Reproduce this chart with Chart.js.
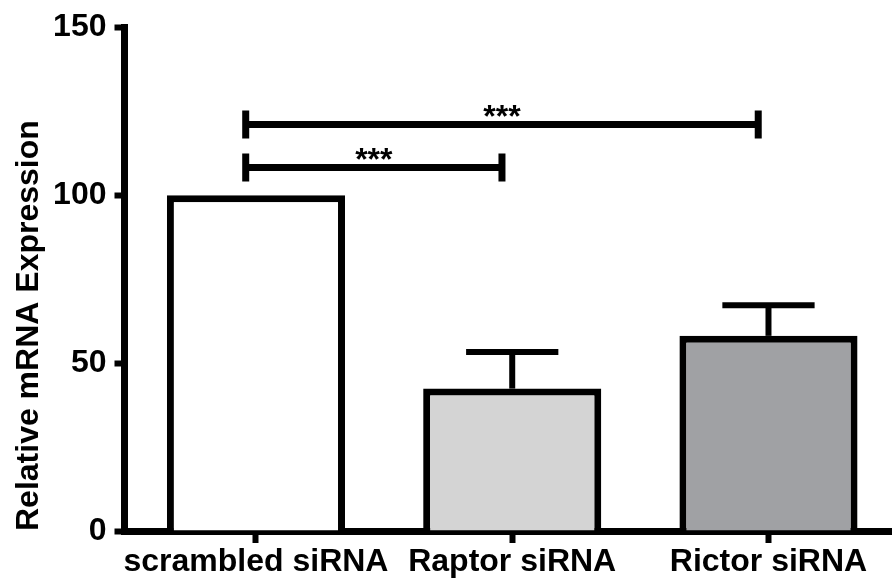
<!DOCTYPE html>
<html>
<head>
<meta charset="utf-8">
<script src="https://cdn.jsdelivr.net/npm/chart.js@4.4.0/dist/chart.umd.min.js"></script>
<style>
  html, body { margin: 0; padding: 0; background: #fff; }
  #chartContainer { width: 892px; height: 580px; }
</style>
</head>
<body>
<div id="chartContainer"><canvas id="myChart"></canvas></div>
<script>
// données
const categories = ["scrambled siRNA", "Raptor siRNA", "Rictor siRNA"];
const means = [100, 42.4, 58.1];
const errTops = [null, 53.3, 67.2]; // haut de la barre d'erreur
const barColors = ["#ffffff", "#d4d4d4", "#a0a1a4"];
const yTicks = [0, 50, 100, 150];

// comparaisons (indices des catégories) et niveau des crochets
const bracketFrom = [0, 0];
const bracketTo = [1, 2];
const bracketY = [108.2, 121];
const bracketLabels = ["***", "***"];

const FONT = "'Liberation Sans', Arial, sans-serif";
const CAP_HALF = 0.18;      // demi-largeur du chapeau, en unités de x
const BRACKET_SHIFT = -0.04; // les crochets sont un peu décalés à gauche
const BRACKET_TIP = 14;     // px

const annotations = {
  id: "annotations",
  afterDatasetsDraw(chart) {
    const { ctx, scales: { x, y } } = chart;
    ctx.save();
    ctx.strokeStyle = "#000";
    ctx.fillStyle = "#000";
    ctx.lineCap = "butt";

    // barres d'erreur
    errTops.forEach((top, i) => {
      if (top == null) return;
      const cx = x.getPixelForValue(i + 1);
      const y0 = y.getPixelForValue(means[i]);
      const y1 = y.getPixelForValue(top);
      const hw = x.getPixelForValue(i + 1 + CAP_HALF) - cx;
      ctx.lineWidth = 6;
      ctx.beginPath();
      ctx.moveTo(cx, y0);
      ctx.lineTo(cx, y1);
      ctx.stroke();
      ctx.beginPath();
      ctx.moveTo(cx - hw, y1);
      ctx.lineTo(cx + hw, y1);
      ctx.stroke();
    });

    // crochets de significativité
    bracketY.forEach((v, k) => {
      const xa = x.getPixelForValue(bracketFrom[k] + 1 + BRACKET_SHIFT);
      const xb = x.getPixelForValue(bracketTo[k] + 1 + BRACKET_SHIFT);
      const yb = y.getPixelForValue(v);
      ctx.lineWidth = 7;
      ctx.beginPath();
      ctx.moveTo(xa, yb);
      ctx.lineTo(xb, yb);
      ctx.moveTo(xa, yb - BRACKET_TIP);
      ctx.lineTo(xa, yb + BRACKET_TIP);
      ctx.moveTo(xb, yb - BRACKET_TIP);
      ctx.lineTo(xb, yb + BRACKET_TIP);
      ctx.stroke();
      ctx.font = "bold 32px " + FONT;
      ctx.textAlign = "center";
      ctx.textBaseline = "alphabetic";
      ctx.fillText(bracketLabels[k], (xa + xb) / 2, yb + 2);
    });
    ctx.restore();
  }
};

const ctx = document.getElementById("myChart").getContext("2d");
const chart = new Chart(ctx, {
  type: "bar",
  data: {
    datasets: [
      {
        data: means.map((v, i) => ({ x: i + 1, y: v })),
        backgroundColor: barColors,
        borderColor: "#000",
        borderWidth: 7,
        borderSkipped: "start",
        barPercentage: 0.695,
        categoryPercentage: 1
      }
    ]
  },
  options: {
    responsive: true,
    maintainAspectRatio: false,
    animation: false,
    layout: { padding: { top: 22, right: 0, bottom: 0, left: 0 } },
    plugins: {
      legend: { display: false },
      tooltip: { enabled: false }
    },
    scales: {
      x: {
        type: "linear",
        offset: false,
        min: 0.487,
        max: 3.482,
        afterBuildTicks: s => { s.ticks = categories.map((c, i) => ({ value: i + 1 })); },
        afterFit: s => { s.height = 49; },
        ticks: {
          callback: v => categories[v - 1],
          font: { family: FONT, weight: "bold", size: 32 },
          color: "#000",
          padding: 0,
          maxRotation: 0,
          autoSkip: false
        },
        grid: { offset: false, drawOnChartArea: false, tickLength: 12, tickWidth: 6, tickColor: "#000" },
        border: { color: "#000", width: 7 }
      },
      y: {
        min: 0,
        max: 150,
        afterBuildTicks: s => { s.ticks = yTicks.map(v => ({ value: v })); },
        afterFit: s => { s.width = 124.5; },
        ticks: {
          font: { family: FONT, weight: "bold", size: 32 },
          color: "#000",
          padding: 8
        },
        grid: { drawOnChartArea: false, tickLength: 10, tickWidth: 6, tickColor: "#000" },
        border: { color: "#000", width: 7 },
        title: {
          display: true,
          text: "Relative mRNA Expression",
          align: "start",
          color: "#000",
          font: { family: FONT, weight: "bold", size: 32 },
          padding: { top: 10, bottom: 0 }
        }
      }
    }
  },
  plugins: [annotations]
});
</script>
</body>
</html>
